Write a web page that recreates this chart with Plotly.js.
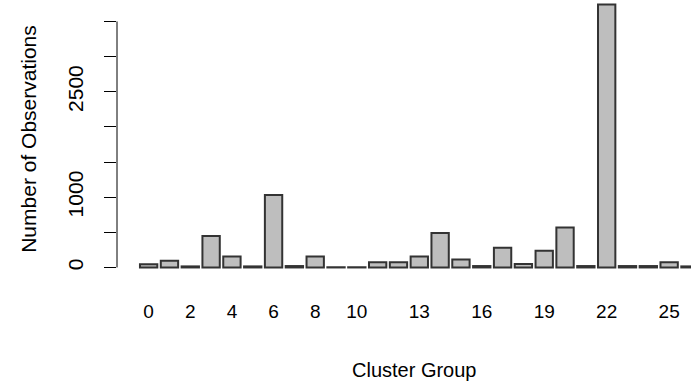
<!DOCTYPE html>
<html>
<head>
<meta charset="utf-8">
<script src="https://cdn.plot.ly/plotly-3.0.1.min.js"></script>
<style>html,body{margin:0;padding:0;background:#fff;overflow:hidden;}#chart{width:691px;height:388px;}</style>
</head>
<body>
<div id="chart"></div>
<script>
// Cluster groups 0..26
const clusterGroups = [0,1,2,3,4,5,6,7,8,9,10,11,12,13,14,15,16,17,18,19,20,21,22,23,24,25,26];
// Number of observations per cluster
const observations = [45,95,15,447,155,15,1030,20,155,3,3,75,75,155,490,114,20,280,50,238,570,20,3740,20,20,75,15];
// Tick labels shown on the x axis (R drops overlapping ones)
const xTickValues = [0,2,4,6,8,10,13,16,19,22,25];
const xTickLabels = ["0","2","4","6","8","10","13","16","19","22","25"];
// Y axis ticks and the labels R kept
const yTickValues = [0,500,1000,1500,2000,2500,3000,3500];
const yTickLabels = ["0","","1000","","","2500","",""];

const trace = {
  type: 'bar',
  x: clusterGroups,
  y: observations,
  width: 0.833,
  marker: {color: '#BEBEBE', line: {color: '#333333', width: 2}},
  hoverinfo: 'x+y'
};

const layout = {
  width: 691, height: 388,
  margin: {l: 117, r: 0, t: 0, b: 110},
  paper_bgcolor: '#ffffff', plot_bgcolor: '#ffffff',
  font: {family: 'Liberation Sans, Arial, sans-serif', color: '#000000'},
  showlegend: false,
  bargap: 0,
  xaxis: {
    range: [-1.52, 26.05],
    tickmode: 'array', tickvals: xTickValues, ticktext: xTickLabels,
    ticks: '', showline: false, showgrid: false, zeroline: false,
    tickfont: {size: 19, color: '#000'},
    ticklabelstandoff: 20
  },
  yaxis: {
    range: [-150, 3805],
    tickmode: 'array', tickvals: yTickValues, ticktext: yTickLabels,
    ticks: 'outside', ticklen: 12, tickwidth: 1, tickcolor: '#000',
    showline: false, showgrid: false, zeroline: false,
    tickangle: -90,
    tickfont: {size: 21, color: '#000'},
    ticklabelstandoff: 13,
    title: {text: 'Number of Observations', font: {size: 21, color: '#000'}, standoff: 21}
  },
  annotations: [{
    text: 'Cluster Group', xref: 'paper', yref: 'paper',
    x: 0.519, y: -0.33, xanchor: 'center', yanchor: 'middle',
    showarrow: false, font: {size: 20, color: '#000'}
  }],
  shapes: [{
    type: 'line', xref: 'paper', yref: 'y',
    x0: 0, x1: 0, y0: 0, y1: 3500,
    line: {color: '#000', width: 1}
  }]
};

Plotly.newPlot('chart', [trace], layout, {displayModeBar: false, staticPlot: true});
</script>
</body>
</html>
